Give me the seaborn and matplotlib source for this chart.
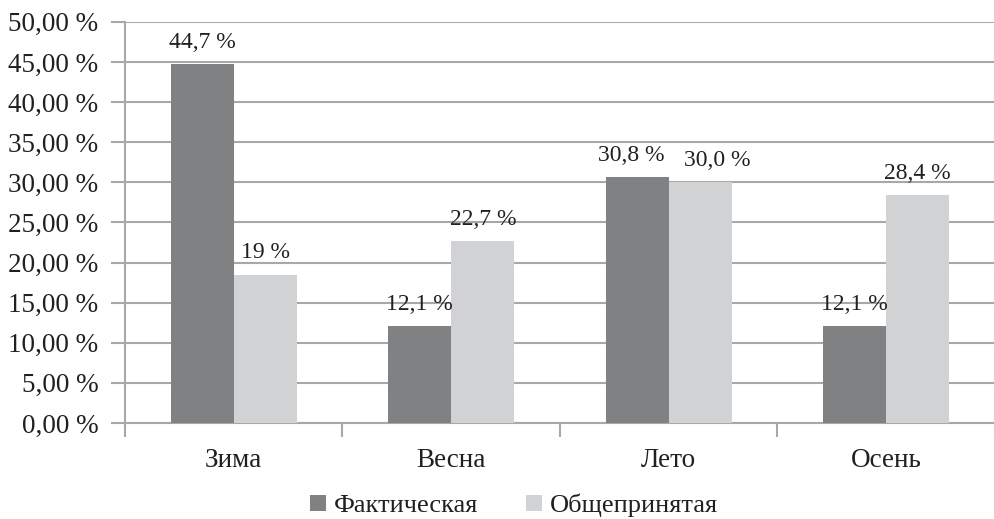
import matplotlib
matplotlib.use("Agg")
import matplotlib.pyplot as plt
import seaborn as sns
import pandas as pd
from matplotlib.ticker import FuncFormatter, MultipleLocator

seasons = ["Зима", "Весна", "Лето", "Осень"]
series = ["Фактическая", "Общепринятая"]
actual = [44.7, 12.1, 30.7, 12.1]
common = [18.5, 22.7, 30.0, 28.4]
actual_labels = ["44,7 %", "12,1 %", "30,8 %", "12,1 %"]
common_labels = ["19 %", "22,7 %", "30,0 %", "28,4 %"]
colors = ["#808183", "#d1d2d4"]

df = pd.DataFrame({
    "season": seasons * 2,
    "series": [series[0]] * 4 + [series[1]] * 4,
    "value": actual + common,
})

sns.set_theme(style="white")
plt.rcParams["font.family"] = ["Liberation Serif", "DejaVu Serif"]

fig = plt.figure(figsize=(9.95, 5.19), dpi=100)
ax = fig.add_axes([0.1256, 0.185, 0.8744, 0.773])

sns.barplot(data=df, x="season", y="value", hue="series", order=seasons,
            hue_order=series, palette=colors, width=0.58, saturation=1,
            edgecolor="none", linewidth=0, ax=ax, legend=True, zorder=3)

ax.set_ylim(0, 50)
ax.set_xlim(-0.5, 3.5)
ax.yaxis.set_major_locator(MultipleLocator(5))
ax.yaxis.set_major_formatter(FuncFormatter(lambda v, p: f"{v:.2f}".replace(".", ",") + " %"))
ax.grid(axis="y", color="#a8a8a8", linewidth=1.5, zorder=0)
ax.set_axisbelow(True)
ax.set_xlabel("")
ax.set_ylabel("")

for s in ["top", "right"]:
    ax.spines[s].set_visible(False)
for s in ["left", "bottom"]:
    ax.spines[s].set_color("#a8a8a8")
    ax.spines[s].set_linewidth(1.5)

ax.tick_params(axis="y", length=10, width=1.5, color="#a8a8a8", labelsize=19.5,
               labelcolor="#231f20", pad=9, left=True)
ax.set_xticks([0, 1, 2, 3])
ax.set_xticklabels(seasons)
ax.tick_params(axis="x", length=0, labelsize=19.5, labelcolor="#231f20", pad=18)
# boundary ticks between categories
ax.set_xticks([-0.5, 0.5, 1.5, 2.5, 3.5], minor=True)
ax.tick_params(axis="x", which="minor", length=10, width=1.5, color="#a8a8a8", bottom=True)

containers = ax.containers
anns0 = ax.bar_label(containers[0], labels=actual_labels, padding=8, fontsize=17, color="#231f20")
anns1 = ax.bar_label(containers[1], labels=common_labels, padding=8, fontsize=17, color="#231f20")
# nudge the summer labels apart, as in the reference
anns0[2].xyann = (-4, 8)
anns1[2].xyann = (12, 8)

leg = ax.legend(loc="center", bbox_to_anchor=(0.447, -0.206), ncol=2, frameon=False,
                fontsize=19, handlelength=0.6, handleheight=0.6, handletextpad=0.3,
                columnspacing=1.8, labelcolor="#231f20", borderpad=0, borderaxespad=0)

fig.savefig("out.png", dpi=100)
